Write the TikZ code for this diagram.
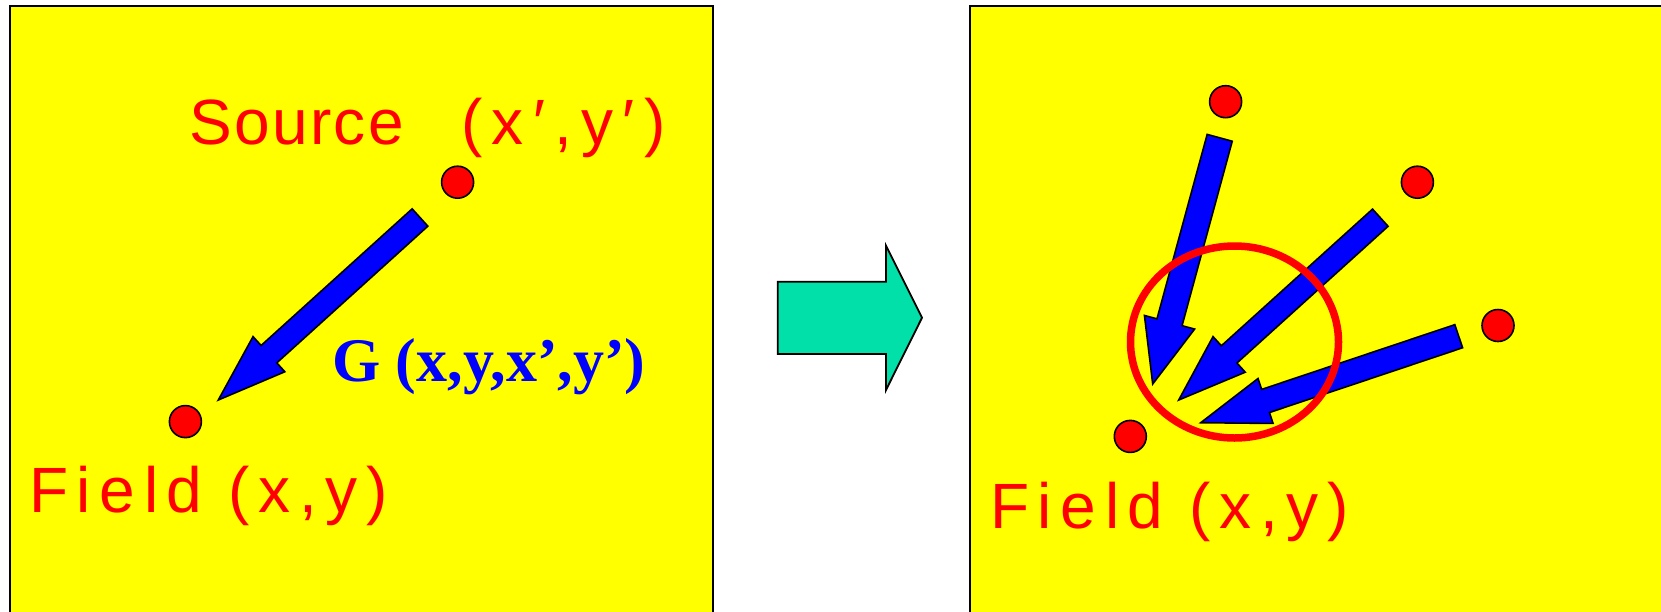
\documentclass[tikz,border=0pt]{standalone}
\usepackage{fontspec}
\usetikzlibrary{calc,shapes.geometric}
\newfontfamily\lsans[LetterSpace=13.5]{Liberation Sans}
\newfontfamily\lsansw[LetterSpace=3.5]{Liberation Sans}
\newfontfamily\lsansp[LetterSpace=14.5]{Liberation Sans}
\newfontfamily\tserif{Liberation Serif}
\definecolor{panelyellow}{HTML}{FFFF00}
\definecolor{tealgreen}{HTML}{00E0A8}
\tikzset{
  panel/.style={fill=panelyellow, draw=black, line width=2pt},
  dot/.style={circle, fill=red, draw=black, line width=1.6pt, minimum size=32pt, inner sep=0pt},
  blockarrowstyle/.style={fill=blue, draw=black, line width=1.6pt, line join=miter},
  bigarrowstyle/.style={fill=tealgreen, draw=black, line width=1.8pt, line join=miter},
  redlabel/.style={text=red, inner sep=0pt, anchor=base west, font={\lsans\fontsize{64}{70}\selectfont}},
  redword/.style={redlabel, font={\lsansw\fontsize{64}{70}\selectfont}},
  redcoord/.style={redlabel, font={\lsansp\fontsize{64}{70}\selectfont}},
  bluelabel/.style={text=blue, inner sep=0pt, anchor=base west, font={\tserif\bfseries\fontsize{62}{70}\selectfont}},
  ring/.style={draw=red, line width=7.5pt}
}
% #1 tail, #2 tip, #3 half shaft width, #4 half head width, #5 head length
\newcommand{\blockarr}[5]{%
  \path ($(#2)!#5!(#1)$) coordinate (J);
  \draw[blockarrowstyle] ($(#1)!#3!90:(#2)$) -- ($(J)!#3!-90:(#1)$) -- ($(J)!#4!-90:(#1)$) -- (#2)
    -- ($(J)!#4!90:(#1)$) -- ($(J)!#3!90:(#1)$) -- ($(#1)!#3!-90:(#2)$) -- cycle;
}
\begin{document}
\begin{tikzpicture}[x=1pt,y=-1pt]
\useasboundingbox (0,0) rectangle (1661,611);
% panels
\draw[panel] (10,6) rectangle (713,640);
\draw[panel] (970,6) rectangle (1680,640);

% ---------- left panel ----------
\node[dot] (src) at (457.6,182.2) {};
\node[dot] (fld) at (185.4,421.6) {};
\node[redword] (srclabel) at (189.5,144) {Source};
\node[redcoord] (srccoord) at (461,144) {(x′,y′)};
\node[redlabel] (fldlabel) at (29,512) {Field (x,y)};
\node[bluelabel] (glabel) at (332,381.7) {G (x,y,x’,y’)};
\coordinate (la0) at (420,217.5);
\coordinate (la1) at (218.3,400);
\blockarr{la0}{la1}{11.7pt}{23.7pt}{68.3pt}

% ---------- middle arrow ----------
\coordinate (m1) at (777.7,281.7);
\coordinate (m2) at (886,281.7);
\coordinate (m3) at (886,245.7);
\coordinate (m4) at (922,317.7);
\coordinate (m5) at (886,390);
\coordinate (m6) at (886,354);
\coordinate (m7) at (777.7,354);
\draw[bigarrowstyle] (m1) -- (m2) -- (m3) -- (m4) -- (m5) -- (m6) -- (m7) -- cycle;

% ---------- right panel ----------
\node[dot] (s1) at (1225.6,101.7) {};
\node[dot] (s2) at (1417.4,182.2) {};
\node[dot] (s3) at (1498,325.5) {};
\node[dot] (f2) at (1130.3,436.4) {};
\node[redlabel] (fld2label) at (990,528.3) {Field (x,y)};

\coordinate (a1t) at (1219.7,137.8);
\coordinate (a1h) at (1152.7,384);
\blockarr{a1t}{a1h}{13pt}{26pt}{64pt}
\coordinate (a2t) at (1380.3,217.7);
\coordinate (a2h) at (1178.7,400);
\blockarr{a2t}{a2h}{11.6pt}{24pt}{68pt}
\coordinate (a3t) at (1458.7,336.2);
\coordinate (a3h) at (1200.7,422.7);
\blockarr{a3t}{a3h}{12.2pt}{23.7pt}{68.4pt}

\node[ring, ellipse, minimum width=208pt, minimum height=192pt, inner sep=0pt] (zone) at (1234.5,342) {};
\end{tikzpicture}
\end{document}
